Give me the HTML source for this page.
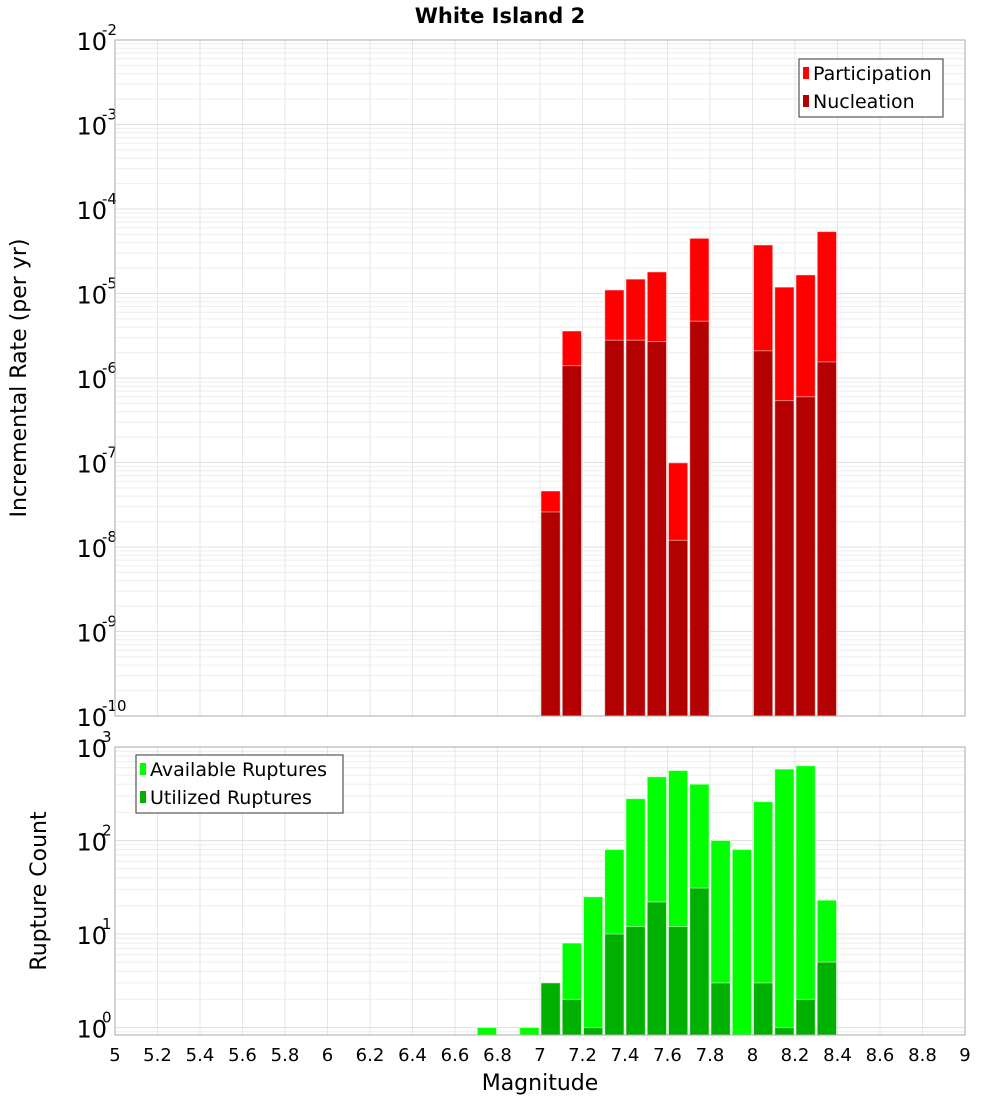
<!DOCTYPE html>
<html><head><meta charset="utf-8"><style>
html,body{margin:0;padding:0;background:#fff;}
svg text{font-family:"DejaVu Sans","Liberation Sans",sans-serif;}
</style></head><body>
<svg id="c" width="1000" height="1100" xmlns="http://www.w3.org/2000/svg">
<text x="500" y="23" text-anchor="middle" font-size="21" font-weight="bold">White Island 2</text>
<g id="top"></g><g id="bot"></g>
<text transform="translate(26,378) rotate(-90)" text-anchor="middle" font-size="22">Incremental Rate (per yr)</text>
<text transform="translate(46,891) rotate(-90)" text-anchor="middle" font-size="22">Rupture Count</text>
<text x="540" y="1090" text-anchor="middle" font-size="22">Magnitude</text>
</svg>
<script>
const mags=[7.05,7.15,7.35,7.45,7.55,7.65,7.75,8.05,8.15,8.25,8.35];
const participation=[4.6e-8,3.6e-6,1.1e-5,1.48e-5,1.8e-5,9.9e-8,4.5e-5,3.75e-5,1.19e-5,1.66e-5,5.4e-5];
const nucleation=[2.6e-8,1.4e-6,2.8e-6,2.8e-6,2.7e-6,1.2e-8,4.7e-6,2.1e-6,5.4e-7,6e-7,1.55e-6];
const cntMags=[6.75,6.95,7.05,7.15,7.25,7.35,7.45,7.55,7.65,7.75,7.85,7.95,8.05,8.15,8.25,8.35];
const available=[1,1,3,8,25,80,280,480,560,400,100,80,260,580,630,23];
const utilized=[0,0,3,2,1,10,12,22,12,31,3,0,3,1,2,5];
const xTicks=[5,5.2,5.4,5.6,5.8,6,6.2,6.4,6.6,6.8,7,7.2,7.4,7.6,7.8,8,8.2,8.4,8.6,8.8,9];
const topExp=[-2,-3,-4,-5,-6,-7,-8,-9,-10];
const botExp=[3,2,1,0];
const NS="http://www.w3.org/2000/svg";
const X0=115,X1=965;
const xs=m=>X0+(m-5)/4*(X1-X0);
function mk(p,t,a){const e=document.createElementNS(NS,t);for(const k in a)e.setAttribute(k,a[k]);p.appendChild(e);return e;}
function panel(g,yT,yB,lmax,lmin,exps,name){
  const ys=v=>yT+(lmax-Math.log10(v))/(lmax-lmin)*(yB-yT);
  // minor grid
  for(let d=Math.floor(lmin);d<lmax;d++)for(let k=1;k<10;k++){const v=k*Math.pow(10,d);const y=ys(v);if(y<yT||y>yB)continue;
    const l=mk(g,'line',{x1:X0,x2:X1,y1:y,y2:y,stroke:k==1?'#e0e0e0':'#eeeeee','stroke-width':1});
    
    }
  xTicks.forEach(t=>{const x=xs(t);const l=mk(g,'line',{x1:x,x2:x,y1:yT,y2:yB,stroke:'#e6e6e6'});
    
    });
  exps.forEach(e=>{const y=ys(Math.pow(10,e));
    const t=mk(g,'text',{x:107,y:y+10,'text-anchor':'end','font-size':24});
    
    
    t.textContent='10';
    const s=mk(g,'text',{x:102,y:y-5,'font-size':15});
    
    
    s.textContent=String(e);});
  return ys;
}
function bars(g,ys,yB,ms,vals,color,name){
  ms.forEach((m,i)=>{const v=vals[i];if(!v)return;const x=xs(m-0.05)+1,w=xs(m+0.05)-xs(m-0.05)-2;const y=ys(v);
    const r=mk(g,'rect',{x:x,y:y,width:w,height:yB-y,fill:color,stroke:'rgba(255,255,255,0.5)','stroke-width':1});
    
    });
}
function legend(g,x,y,w,items,name){
  const r=mk(g,'rect',{x:x,y:y,width:w,height:58,fill:'#fff',stroke:'#333'});
  
  
  items.forEach((it,i)=>{const yy=y+14+i*28;
    const s=mk(g,'rect',{x:x+4,y:yy-6,width:6,height:12,fill:it[1]});
    
    
    const t=mk(g,'text',{x:x+14,y:yy+7,'font-size':19});
    
    
    t.textContent=it[0];});
}
const gt=document.getElementById('top'),gb=document.getElementById('bot');
const yt=panel(gt,40,716,-2,-10,topExp,'top');
bars(gt,yt,716,mags,participation,'#ff0000','participation');
bars(gt,yt,716,mags,nucleation,'#b30000','nucleation');
let f=mk(gt,'rect',{x:X0,y:40,width:X1-X0,height:676,fill:'none',stroke:'#aaa'});


legend(gt,799,59,144,[['Participation','#ff0000'],['Nucleation','#b30000']],'top-legend');
const yb=panel(gb,747,1035,3,-0.08,botExp,'bottom');
bars(gb,yb,1035,cntMags,available,'#00ff00','available');
bars(gb,yb,1035,cntMags,utilized,'#00b000','utilized');
f=mk(gb,'rect',{x:X0,y:747,width:X1-X0,height:288,fill:'none',stroke:'#aaa'});


legend(gb,136,755,207,[['Available Ruptures','#00ff00'],['Utilized Ruptures','#00b000']],'bottom-legend');
xTicks.forEach(t=>{const e=mk(gb,'text',{x:xs(t),y:1061,'text-anchor':'middle','font-size':18});
  
  
  e.textContent=String(t);});
</script>
</body></html>
